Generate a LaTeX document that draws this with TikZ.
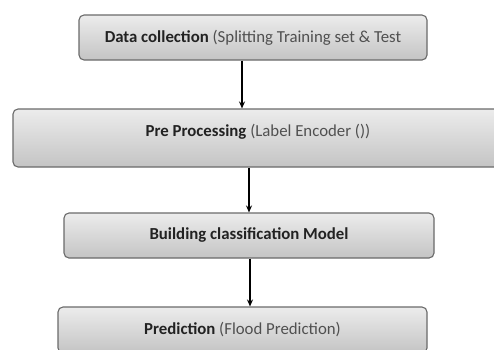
\documentclass[tikz,border=0pt]{standalone}
\usepackage{fontspec}
\setmainfont{Carlito}
\usetikzlibrary{arrows.meta}
\definecolor{boxtop}{HTML}{ECECEC}
\definecolor{boxbot}{HTML}{C4C4C4}
\definecolor{boxline}{HTML}{6A6A6A}
\definecolor{boldtxt}{HTML}{222222}
\definecolor{regtxt}{HTML}{505050}
\tikzset{
  stagebox/.style={draw=boxline, line width=1.1pt, rounded corners=5pt,
    top color=boxtop, bottom color=boxbot, inner sep=0pt,
    font=\fontsize{16.8}{19}\selectfont, text=regtxt},
  flow/.style={draw=black, line width=1.2pt, -{Stealth[length=7pt,width=6pt]}}
}
\newcommand{\bt}[1]{\textbf{\color{boldtxt}#1}}
\begin{document}
\begin{tikzpicture}[x=1pt,y=-1pt]
\useasboundingbox (0,0) rectangle (494,349);
\clip (0,0) rectangle (494,349);
\fill[white] (0,0) rectangle (494,349);
\node[stagebox, minimum width=348pt, minimum height=45pt] (d1) at (253,37.5)
  {\bt{Data collection} (Splitting Training set \& Test};
\node[stagebox, minimum width=490pt, minimum height=58pt, text depth=16pt] (d2) at (258,138)
  {\bt{Pre Processing} (Label Encoder ())};
\node[stagebox, minimum width=370pt, minimum height=45pt] (d3) at (249,235.5)
  {\bt{Building classification Model}};
\node[stagebox, minimum width=369pt, minimum height=46pt] (d4) at (242.5,330)
  {\bt{Prediction} (Flood Prediction)};
\coordinate (a1) at ([xshift=-11pt]d1.south);
\coordinate (a2) at ([xshift=-9pt]d2.south);
\coordinate (a3) at ([xshift=1pt]d3.south);
\draw[flow] (a1) -- (a1 |- d2.north);
\draw[flow] (a2) -- (a2 |- d3.north);
\draw[flow] (a3) -- (a3 |- d4.north);
\end{tikzpicture}
\end{document}
